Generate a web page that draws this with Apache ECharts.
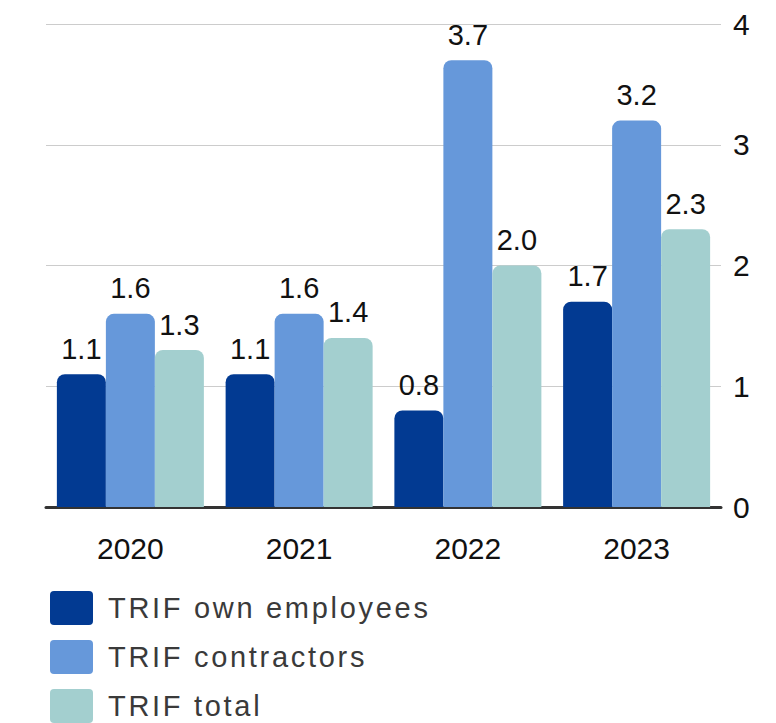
<!DOCTYPE html>
<html>
<head>
<meta charset="utf-8">
<script src="https://cdn.jsdelivr.net/npm/echarts@6/dist/echarts.min.js"></script>
<style>
html, body { margin: 0; padding: 0; background: #fff; }
#chart_trif { width: 776px; height: 723px; }
</style>
</head>
<body>
<div id="chart_trif"></div>
<script>
var years = ['2020', '2021', '2022', '2023'];
var trif_own = [1.1, 1.1, 0.8, 1.7];
var trif_contractors = [1.6, 1.6, 3.7, 3.2];
var trif_total = [1.3, 1.4, 2.0, 2.3];
var y_ticks = [0, 1, 2, 3, 4];
var legend_names = ['TRIF own employees', 'TRIF contractors', 'TRIF total'];

var FONT = '"Liberation Sans", Arial, sans-serif';
// 圆角方块图例
var LEGEND_ICON = 'path://M4,0H39A4,4 0 0 1 43,4V30A4,4 0 0 1 39,34H4A4,4 0 0 1 0,30V4A4,4 0 0 1 4,0Z';

function makeSeries(name, data, color){
    return {
        name: name,
        type: 'bar',
        data: data,
        barWidth: 49,
        barGap: '0%',
        itemStyle: {
            color: color,
            borderRadius: [8, 8, 0, 0]
        },
        label: {
            show: true,
            position: 'top',
            distance: 11,
            color: '#111',
            fontSize: 29,
            fontFamily: FONT,
            formatter: function(p){ return p.value.toFixed(1); }
        }
    };
}

var myChart = echarts.init(document.getElementById('chart_trif'), null, { renderer: 'svg' });
var option = {
    animation: false,
    grid: {
        top: 24,
        left: 46,
        right: 55,
        bottom: 216
    },
    legend: {
        orient: 'vertical',
        left: 45,
        top: 586,
        height: 200,
        icon: LEGEND_ICON,
        itemWidth: 43,
        itemHeight: 34,
        itemGap: 15,
        textStyle: {
            fontSize: 29,
            color: '#3a3a3a',
            fontFamily: FONT,
            padding: [0, 0, 0, 10]
        },
        data: legend_names
    },
    xAxis: {
        type: 'category',
        data: years,
        axisTick: { show: false },
        axisLine: { lineStyle: { color: '#333', width: 3 } },
        axisLabel: {
            fontSize: 30,
            color: '#111',
            fontFamily: FONT,
            margin: 26
        }
    },
    yAxis: {
        type: 'value',
        position: 'right',
        min: y_ticks[0],
        max: y_ticks[y_ticks.length - 1],
        interval: 1,
        axisLine: { show: false },
        axisTick: { show: false },
        splitLine: { lineStyle: { color: '#cccccc', width: 1 } },
        axisLabel: {
            fontSize: 30,
            color: '#111',
            fontFamily: FONT,
            margin: 12
        }
    },
    series: [
        makeSeries(legend_names[0], trif_own, '#023a92'),
        makeSeries(legend_names[1], trif_contractors, '#6698da'),
        makeSeries(legend_names[2], trif_total, '#a3cfcf')
    ]
};
myChart.setOption(option);

// 图例文字字距稍宽
function spaceLegendText(){
    var texts = document.querySelectorAll('#chart_trif text');
    for(var i=0;i<texts.length;i++){
        if(legend_names.indexOf(texts[i].textContent) >= 0){
            texts[i].setAttribute('letter-spacing', '2.7');
        }
    }
}
spaceLegendText();
myChart.on('finished', spaceLegendText);
</script>
</body>
</html>
